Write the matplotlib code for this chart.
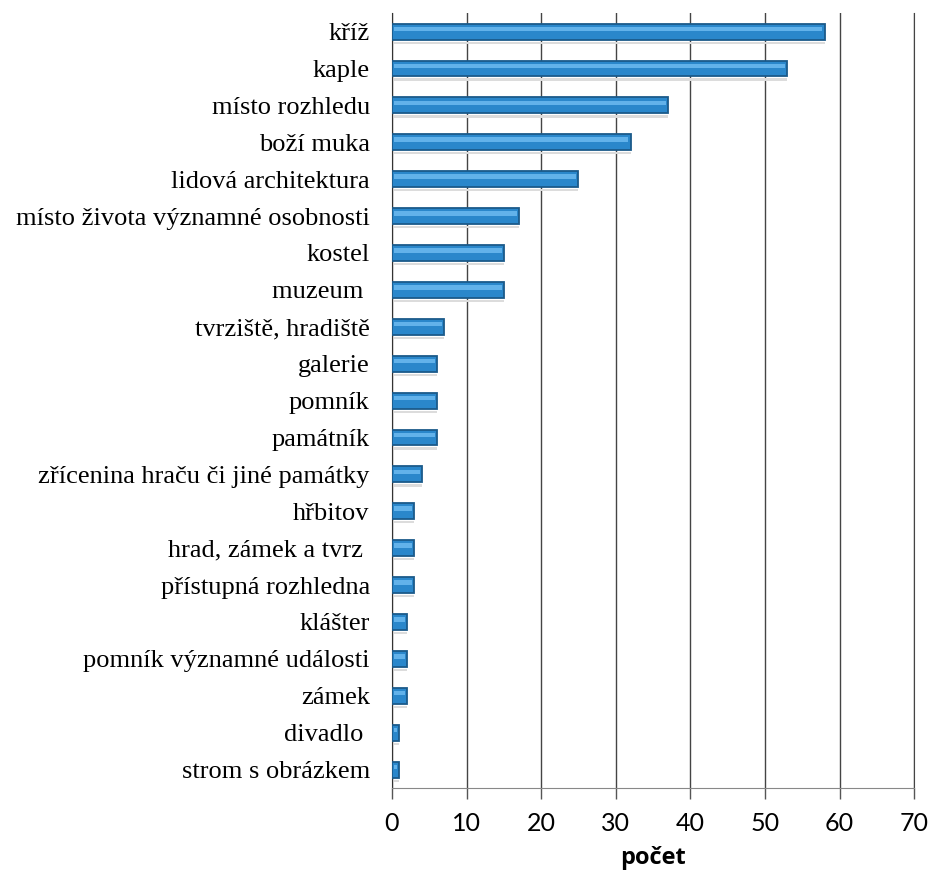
import matplotlib.pyplot as plt
import numpy as np

# %% data
categories = [
    "kříž",
    "kaple",
    "místo rozhledu",
    "boží muka",
    "lidová architektura",
    "místo života významné osobnosti",
    "kostel",
    "muzeum ",
    "tvrziště, hradiště",
    "galerie",
    "pomník",
    "památník",
    "zřícenina hraču či jiné památky",
    "hřbitov",
    "hrad, zámek a tvrz ",
    "přístupná rozhledna",
    "klášter",
    "pomník významné události",
    "zámek",
    "divadlo ",
    "strom s obrázkem",
]
counts = [58, 53, 37, 32, 25, 17, 15, 15, 7, 6, 6, 6, 4, 3, 3, 3, 2, 2, 2, 1, 1]
x_ticks = [0, 10, 20, 30, 40, 50, 60, 70]

# %% plot
fig = plt.figure(figsize=(9.3, 8.75), dpi=100)
ax = fig.add_axes([0.4215, 0.0994, 0.5615, 0.8856])

y = np.arange(len(categories))
vals = np.array(counts, dtype=float)

# faint shadow under each bar
ax.barh(y + 0.3, vals - 0.3, height=0.06, left=0.3, color="#dcdcdc", zorder=2)
# main bar
ax.barh(y, vals, height=0.43, color="#2a87cb", edgecolor="#1b5a8a", linewidth=1.3, zorder=3)
# glossy highlight on top of the bar
ax.barh(y - 0.07, np.clip(vals - 0.6, 0, None), height=0.12, left=0.3, color="#62b2ea", zorder=4)

ax.set_xlim(0, 70)
ax.set_ylim(len(categories) - 0.5, -0.5)
ax.set_xticks(x_ticks)
ax.set_xticklabels([str(t) for t in x_ticks], fontsize=18, family="Lato")
ax.set_yticks(y)
ax.set_yticklabels(categories, fontsize=19, family="Liberation Serif")
ax.tick_params(axis="y", length=0, pad=16)
ax.tick_params(axis="x", length=8, width=1, color="#555555", pad=9, direction="out")

ax.grid(axis="x", color="#444444", linewidth=1, zorder=1)
ax.set_axisbelow(True)
ax.spines["top"].set_visible(False)
ax.spines["right"].set_color("#444444")
ax.spines["left"].set_color("#333333")
ax.spines["bottom"].set_color("#888888")

ax.set_xlabel("počet", fontsize=17, family="Open Sans", fontweight="bold", labelpad=8)

fig.savefig("out.png", dpi=100)
